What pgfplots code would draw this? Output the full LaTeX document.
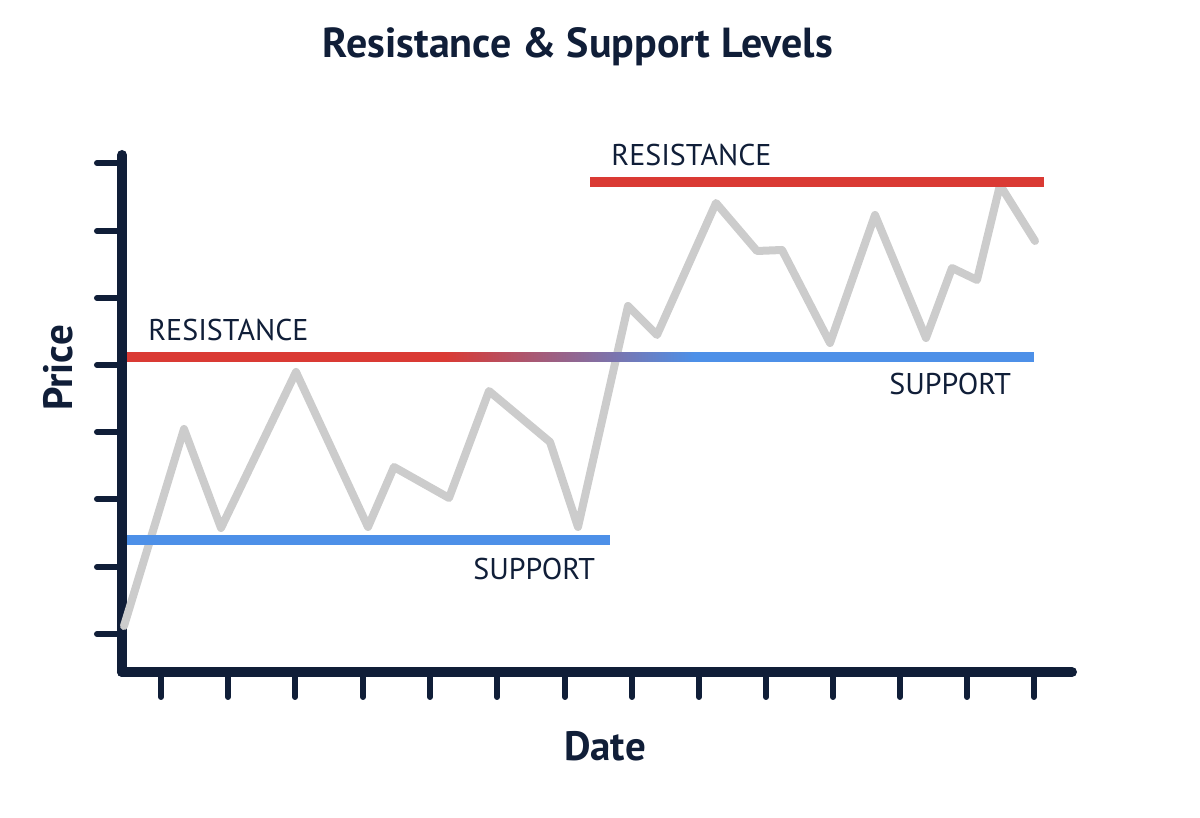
\documentclass[border=0pt]{standalone}
\usepackage{pgfplots}
\pgfplotsset{compat=1.18}
\usepackage{fontspec}
\setmainfont{PT Sans}
\definecolor{navy}{RGB}{16,30,56}
\definecolor{resred}{RGB}{218,58,52}
\definecolor{supblue}{RGB}{77,144,232}
\definecolor{pricegray}{RGB}{204,204,204}
\begin{document}
\begin{tikzpicture}
\begin{axis}[
  x=0.5pt, y=0.5pt,
  xmin=122, xmax=1072, ymin=146, ymax=663,
  axis x line=bottom, axis y line=left,
  axis line style={-, line width=5pt, navy, line cap=round},
  xtick={161,228,295,363,430,497,565,632,699,766,833,900,967,1034},
  ytick={184,251,319,386,453,520,587,655},
  xticklabels={}, yticklabels={},
  tick align=outside,
  major tick length=12.5pt,
  tick style={line width=3pt, navy, line cap=round},
  clip=false,
  colormap={rb}{rgb255=(218,58,52) rgb255=(77,144,232)},
]
% price path
\addplot[pricegray, line width=4pt, line join=round, line cap=round] coordinates {
(124,192) (184,389) (221,290) (296,446) (368,291) (394,351) (449,320)
(489,427) (550,376) (578,291) (628,512) (657,483) (716,615) (757,567)
(782,568) (830,475) (875,603) (926,480) (952,550) (977,538) (1000,633)
(1035,577)
};
% first resistance turning into support
\addplot[resred, line width=5pt] coordinates {(127,461) (446,461)};
\addplot[surf, shader=interp, mesh/rows=2, point meta=explicit] table[meta=c] {
x y c
445 456 0
695 456 1
445 466 0
695 466 1
};
\addplot[supblue, line width=5pt] coordinates {(694,461) (1034,461)};
% first support
\addplot[supblue, line width=5pt] coordinates {(127,278) (610,278)};
% second resistance
\addplot[resred, line width=5pt] coordinates {(590,636) (1044,636)};

\node[anchor=west, inner sep=0pt, text=navy, font=\fontsize{15}{17}\selectfont] at (axis cs:148,488) {RESISTANCE};
\node[anchor=west, inner sep=0pt, text=navy, font=\fontsize{15}{17}\selectfont] at (axis cs:611,663) {RESISTANCE};
\node[anchor=west, inner sep=0pt, text=navy, font=\fontsize{15}{17}\selectfont] at (axis cs:473,249) {SUPPORT};
\node[anchor=west, inner sep=0pt, text=navy, font=\fontsize{15}{17}\selectfont] at (axis cs:889,434) {SUPPORT};
\node[inner sep=0pt, text=navy, font=\bfseries\fontsize{21}{24}\selectfont] at (axis cs:578,771) {Resistance \& Support Levels};
\node[inner sep=0pt, text=navy, font=\bfseries\fontsize{20.5}{24}\selectfont, rotate=90] at (axis cs:58,450) {Price};
\node[inner sep=0pt, text=navy, font=\bfseries\fontsize{20.5}{24}\selectfont] at (axis cs:605,72) {Date};
\path (axis cs:0,0) rectangle (axis cs:1200,818);
\end{axis}
\end{tikzpicture}
\end{document}
